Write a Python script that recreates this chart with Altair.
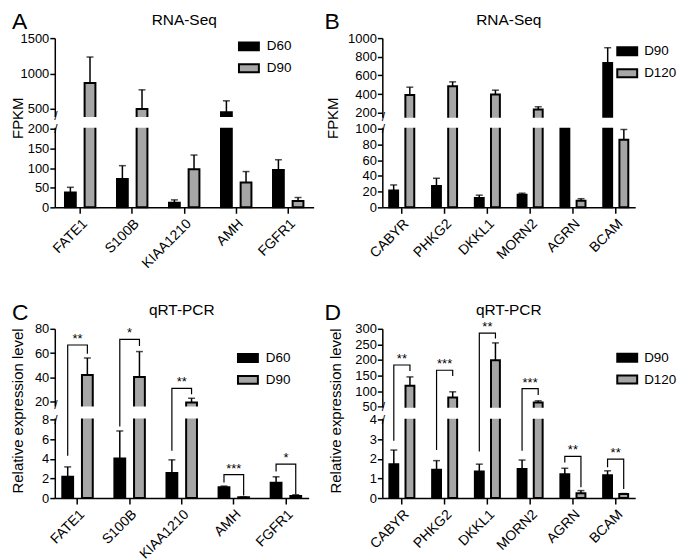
import altair as alt
import pandas as pd

FONT = "Liberation Sans"
GRAY = "#a6a6a6"

# ---------------- data ----------------
a_genes = ["FATE1", "S100B", "KIAA1210", "AMH", "FGFR1"]
a_groups = ["D60", "D90"]
a_mean_1 = [38, 72, 12, 455, 95]
a_sd_1 = [13, 34, 7, 160, 26]
a_mean_2 = [865, 500, 97, 63, 16]
a_sd_2 = [368, 270, 36, 28, 9]
a_ticks = [0, 50, 100, 150, 200, 500, 1000, 1500]

b_genes = ["CABYR", "PHKG2", "DKKL1", "MORN2", "AGRN", "BCAM"]
b_groups = ["D90", "D120"]
b_mean_1 = [21.5, 27, 12, 16, 130, 733]
b_sd_1 = [7, 10, 3.5, 2, 10, 164]
b_mean_2 = [389, 485, 395, 235, 8.5, 86]
b_sd_2 = [85, 46, 47, 29, 2.5, 13]
b_ticks = [0, 20, 40, 60, 80, 100, 200, 400, 600, 800, 1000]

c_genes = ["FATE1", "S100B", "KIAA1210", "AMH", "FGFR1"]
c_groups = ["D60", "D90"]
c_mean_1 = [2.18, 4.05, 2.55, 1.1, 1.57]
c_sd_1 = [1.0, 2.8, 1.35, 0.12, 0.6]
c_mean_2 = [42, 40.3, 19.4, 0.08, 0.22]
c_sd_2 = [14, 21, 3.5, 0.03, 0.12]
c_stars = ["**", "*", "**", "***", "*"]
c_bracket_top = [66.7, 71.3, 31.1, 2.39, 3.47]
c_bracket_left = [4.33, 7.3, 4.84, 1.6, 2.72]
c_bracket_right = [59.6, 65.9, 26.2, 0.25, 0.41]
c_ticks = [0, 2, 4, 6, 8, 20, 40, 60, 80]

d_genes = ["CABYR", "PHKG2", "DKKL1", "MORN2", "AGRN", "BCAM"]
d_groups = ["D90", "D120"]
d_mean_1 = [1.73, 1.45, 1.36, 1.48, 1.22, 1.17]
d_sd_1 = [0.72, 0.46, 0.37, 0.46, 0.3, 0.22]
d_mean_2 = [117, 79.7, 198.8, 63.7, 0.24, 0.21]
d_sd_2 = [28.8, 18.2, 56, 5.3, 0.14, 0.02]
d_stars = ["**", "***", "**", "***", "**", "**"]
d_bracket_top = [184, 167, 286, 108, 2.13, 1.99]
d_bracket_left = [2.93, 2.45, 2.38, 2.42, 1.82, 1.57]
d_bracket_right = [165, 149, 269, 88, 0.55, 0.46]
d_ticks = [0, 1, 2, 3, 4, 50, 100, 150, 200, 250, 300]

H = 170


def make_df(genes, groups, m1, s1, m2, s2):
    rows = []
    for i, g in enumerate(genes):
        rows.append({"gene": g, "group": groups[0], "mean": m1[i], "top": m1[i] + s1[i]})
        rows.append({"gene": g, "group": groups[1], "mean": m2[i], "top": m2[i] + s2[i]})
    return pd.DataFrame(rows)


def panel(letter, title, genes, groups, m1, s1, m2, s2, ytitle, ticks,
          dom, rng, W, po, title_x, title_y, letter_x, leg_x, leg_y, leg_off,
          brackets=None):
    df = make_df(genes, groups, m1, s1, m2, s2)
    yscale = alt.Scale(domain=dom, range=rng, nice=False, zero=False)
    yaxis = alt.Axis(values=ticks, format="d", title=ytitle, titleX=title_x, titleY=title_y,
                     titleFontSize=15, titleFontWeight="normal",
                     titleAngle=270, titleBaseline="top", titleAlign="center",
                     labelFontSize=13, tickSize=5, labelPadding=1, grid=False)
    xaxis = alt.Axis(labelAngle=-45, labelFontSize=14, tickSize=6,
                     labelPadding=3, title=None, grid=False)
    X = alt.X("gene:N", sort=genes, axis=xaxis,
              scale=alt.Scale(paddingInner=0.415, paddingOuter=po))
    XO = alt.XOffset("group:N", sort=groups,
                     scale=alt.Scale(paddingInner=0.45, paddingOuter=0))

    def Y(field):
        return alt.Y(field, type="quantitative", scale=yscale, axis=yaxis)

    base = alt.Chart(df)
    bars = base.mark_bar(stroke="black", strokeWidth=2).encode(
        x=X, xOffset=XO, y=Y("mean"),
        color=alt.Color("group:N", sort=groups,
                        scale=alt.Scale(domain=groups, range=["black", GRAY]),
                        legend=alt.Legend(orient="none", legendX=leg_x, legendY=leg_y,
                                          title=None, padding=0,
                                          symbolType="M-1,-0.4H1V0.4H-1Z",
                                          symbolSize=400, symbolStrokeColor="black",
                                          symbolStrokeWidth=2, labelFontSize=13.5,
                                          labelFont=FONT, labelOffset=leg_off,
                                          rowPadding=3)),
    )
    err = base.mark_rule(color="black", strokeWidth=1.5).encode(
        x=X, xOffset=XO, y=Y("mean"), y2="top:Q")
    cap = base.mark_tick(color="black", thickness=1.5, size=7).encode(
        x=X, xOffset=XO, y=Y("top"))

    gap = dom[2] - dom[1]
    mask = alt.Chart(pd.DataFrame({"lo": [dom[1] + 0.08 * gap],
                                   "hi": [dom[2] - 0.08 * gap]})).mark_rect(
        color="white").encode(x=alt.value(-4), x2=alt.value(W), y=Y("lo"), y2="hi:Q")
    slash = alt.Chart(pd.DataFrame({"v": [dom[1], dom[2]]})).mark_text(
        text="/", fontSize=12, font=FONT, color="black").encode(
        x=alt.value(1), y=Y("v"))

    layers = [bars, err, cap, mask, slash]

    if brackets is not None:
        stars, btop, bleft, bright = brackets
        rows = []
        for i, g in enumerate(genes):
            rows += [
                {"gene": g, "group": groups[0], "v": bleft[i], "k": 0},
                {"gene": g, "group": groups[0], "v": btop[i], "k": 1},
                {"gene": g, "group": groups[1], "v": btop[i], "k": 2},
                {"gene": g, "group": groups[1], "v": bright[i], "k": 3},
            ]
        bdf = pd.DataFrame(rows)
        br = alt.Chart(bdf).mark_line(color="black", strokeWidth=1.2).encode(
            x=X, xOffset=XO, y=Y("v"), detail="gene:N", order="k:Q")
        sdf = pd.DataFrame({"gene": genes, "stars": stars, "top": btop})
        st = alt.Chart(sdf).mark_text(fontSize=13, baseline="bottom", dy=1,
                                      font=FONT, color="black").encode(
            x=X, y=Y("top"), text="stars:N")
        layers += [br, st]

    tdf = pd.DataFrame({"t": [title], "l": [letter]})
    ttl = alt.Chart(tdf).mark_text(fontSize=15.5, font=FONT, color="black",
                                   baseline="middle", align="center").encode(
        text="t:N", x=alt.value(W / 2), y=alt.value(-18.5))
    let = alt.Chart(tdf).mark_text(fontSize=23, font=FONT, color="black",
                                   baseline="top", align="left").encode(
        text="l:N", x=alt.value(letter_x), y=alt.value(-27))
    layers += [ttl, let]
    return alt.layer(*layers).properties(width=W, height=H)


pA = panel("A", "RNA-Seq", a_genes, a_groups, a_mean_1, a_sd_1, a_mean_2, a_sd_2,
           "FPKM", a_ticks, [0, 200, 400, 1500], [170, 91, 78.3, 0], 260, 0.196,
           -44, 80, -43, 184, -2.7, 7)
pB = panel("B", "RNA-Seq", b_genes, b_groups, b_mean_1, b_sd_1, b_mean_2, b_sd_2,
           "FPKM", b_ticks, [0, 100, 157, 1000], [170, 91, 79, 0], 254, 0.161,
           -57.5, 80, -58, 235, 2.3, 6)
pC = panel("C", "qRT-PCR", c_genes, c_groups, c_mean_1, c_sd_1, c_mean_2, c_sd_2,
           "Relative expression level", c_ticks, [0, 8, 17, 80], [170, 91.3, 77, 0],
           255, 0.144, -44, 82, -43, 183, 18.3, 7,
           brackets=(c_stars, c_bracket_top, c_bracket_left, c_bracket_right))
pD = panel("D", "qRT-PCR", d_genes, d_groups, d_mean_1, d_sd_1, d_mean_2, d_sd_2,
           "Relative expression level", d_ticks, [0, 4, 50, 300], [170, 91.3, 78.3, 0],
           254, 0.165, -54.5, 82, -58, 235, 18, 6,
           brackets=(d_stars, d_bracket_top, d_bracket_left, d_bracket_right))

chart = alt.concat(pA, pB, pC, pD, columns=2,
                   spacing={"row": 31, "column": 11}).resolve_scale(
    x="independent", y="independent", color="independent", xOffset="independent"
).resolve_legend(color="independent").properties(
    padding={"left": 2, "top": 2, "right": 0, "bottom": 0}
).configure_view(stroke=None).configure_axis(
    labelFont=FONT, titleFont=FONT, domainColor="black", tickColor="black",
    labelColor="black", titleColor="black", domainWidth=1.5, tickWidth=1.5
).configure_text(font=FONT)

chart.save("out.html", embed_options={"renderer": "svg", "actions": False})
